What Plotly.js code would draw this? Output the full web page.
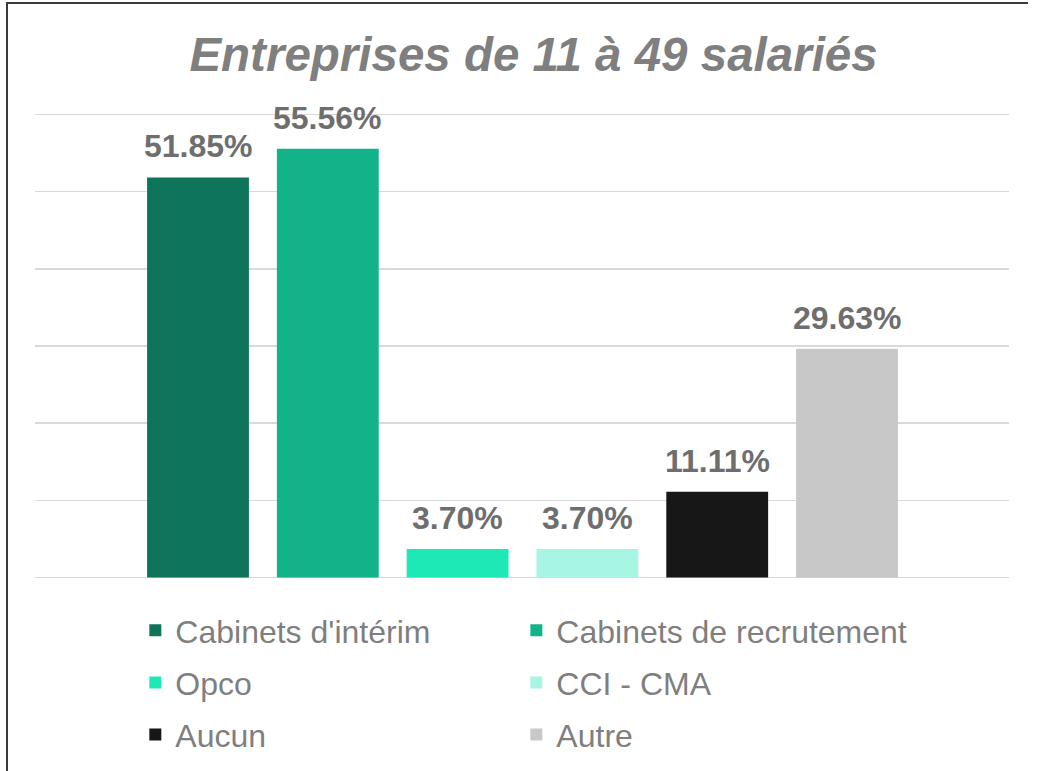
<!DOCTYPE html>
<html>
<head>
<meta charset="utf-8">
<script src="https://cdn.plot.ly/plotly-3.0.1.min.js"></script>
<style>
  html, body { margin: 0; padding: 0; background: #ffffff; }
  #wrap { position: relative; width: 1038px; height: 771px; overflow: hidden; }
  #chart { position: absolute; left: 0; top: 0; width: 1038px; height: 771px; }
  #bl { position: absolute; left: 6px; top: 2px; width: 2px; height: 769px; background: #3a3a3a; }
  #bt { position: absolute; left: 6px; top: 2px; width: 1022px; height: 2px; background: #3a3a3a; }
</style>
</head>
<body>
<div id="wrap">
  <div id="chart"></div>
  <div id="bl"></div>
  <div id="bt"></div>
</div>
<script>
const titleText = "Entreprises de 11 à 49 salariés";
const categories = ["Cabinets d'intérim", "Cabinets de recrutement", "Opco", "CCI - CMA", "Aucun", "Autre"];
const values = [51.85, 55.56, 3.70, 3.70, 11.11, 29.63];
const colors = ["#0e755b", "#13b38a", "#1de9b6", "#a7f5e3", "#171717", "#c8c8c8"];
const yTicks = [0, 10, 20, 30, 40, 50, 60];
const legendIds = ["legend", "legend2", "legend3", "legend4", "legend5", "legend6"];

const FONT = "Liberation Sans, Arial, sans-serif";

const traces = categories.map((c, i) => ({
  type: "bar",
  name: c,
  x: [c],
  y: [values[i]],
  marker: { color: colors[i] },
  hoverinfo: "name+y",
  showlegend: true,
  legend: legendIds[i]
}));

const annotations = categories.map((c, i) => ({
  x: c,
  y: values[i],
  xref: "x",
  yref: "y",
  text: values[i].toFixed(2) + "%",
  showarrow: false,
  yanchor: "bottom",
  yshift: 11,
  font: { family: FONT, size: 32, color: "#6e6e6e", weight: "bold" }
}));

// legend grid: two columns, three rows
const colX = [0.103, 0.4942];
const rowY = [-0.0516, -0.1634, -0.2753];

function legendAt(x, y) {
  return {
    orientation: "h",
    x: x,
    xanchor: "left",
    y: y,
    yanchor: "top",
    font: { family: FONT, size: 32, color: "#7f7f7f" },
    bgcolor: "rgba(0,0,0,0)"
  };
}

const layout = {
  width: 1038,
  height: 771,
  paper_bgcolor: "#ffffff",
  plot_bgcolor: "#ffffff",
  margin: { l: 35, r: 29, t: 113.46, b: 192.46, autoexpand: false },
  barmode: "overlay",
  bargap: 0.2154,
  title: {
    text: "<b><i>" + titleText + "</i></b>",
    font: { family: FONT, size: 47.5, color: "#7f7f7f" },
    xref: "container",
    yref: "container",
    x: 0.514,
    xanchor: "center",
    y: 1 - 54.5 / 771,
    yanchor: "middle"
  },
  xaxis: {
    type: "category",
    categoryorder: "array",
    categoryarray: categories,
    range: [-1.2558, 6.248],
    showticklabels: false,
    showgrid: false,
    zeroline: false,
    showline: false,
    ticks: ""
  },
  yaxis: {
    range: [-0.2, 60.2],
    tickvals: yTicks,
    showticklabels: false,
    showgrid: true,
    gridcolor: "#d9d9d9",
    gridwidth: 1.5,
    zeroline: true,
    zerolinecolor: "#d9d9d9",
    zerolinewidth: 1.5,
    showline: false,
    ticks: "",
    fixedrange: true
  },
  showlegend: true,
  annotations: annotations
};

legendIds.forEach((id, i) => {
  layout[id] = legendAt(colX[i % 2], rowY[Math.floor(i / 2)]);
});

Plotly.newPlot("chart", traces, layout, { displayModeBar: false, staticPlot: true });
</script>
</body>
</html>
